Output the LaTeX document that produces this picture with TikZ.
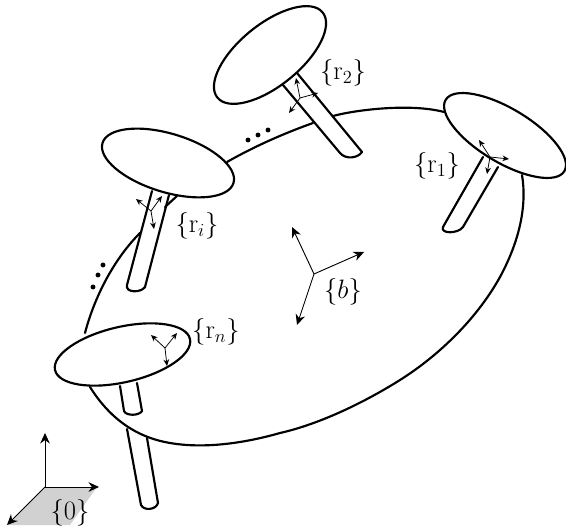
\documentclass[tikz,border=0pt]{standalone}
\usepackage{amsmath,amssymb}
\usepackage{tikz}
\usetikzlibrary{arrows.meta,positioning,shapes.geometric}
\tikzset{
  disc/.style   ={draw, ellipse, fill=white, inner sep=0pt, line width=1.4pt},
  edgeln/.style ={line width=1.4pt, line cap=round, line join=round},
  lab/.style    ={font=\LARGE, inner sep=0pt},
  axis/.style   ={-{Stealth[length=2.4mm,width=2.2mm]}, line width=0.6pt},
  axisS/.style  ={-{Stealth[length=1.5mm,width=1.3mm]}, line width=0.5pt},
  dotm/.style   ={circle, fill=black, minimum size=3.2pt, inner sep=0pt},
}
\begin{document}
\begin{tikzpicture}[x=0.65pt, y=-0.65pt]
  \useasboundingbox (0,0) rectangle (566,532);
  % ground patch
  \fill[black!18] (45,487) -- (97,487) -- (70,525) -- (8,525) -- cycle;
  % body outline
  \draw[edgeln] (227,162) .. controls (255,146) and (285,133) .. (313,123);
  \draw[edgeln] (333,116) .. controls (355,110) and (410,103) .. (444,112);
  \draw[edgeln] (522,175) .. controls (527,205) and (520,240) .. (500,277)
    .. controls (475,322) and (435,358) .. (400,380)
    .. controls (365,402) and (320,424) .. (280,433)
    .. controls (245,443) and (205,449) .. (170,443)
    .. controls (140,438) and (112,422) .. (90,387);
  \draw[edgeln] (85,333) .. controls (95,295) and (115,258) .. (140,233);
  \draw[edgeln] (165,207) -- (177,196);
  % legs
  \coordinate (l2a) at (283,85);  \coordinate (l2b) at (340,153);
  \coordinate (l2c) at (362,152); \coordinate (l2d) at (297,73);
  \draw[edgeln] (l2a) -- (l2b) .. controls (346,160) and (358,158) .. (l2c) -- (l2d);
  \coordinate (l1a) at (483,157); \coordinate (l1b) at (443,227);
  \coordinate (l1c) at (463,227); \coordinate (l1d) at (498,167);
  \draw[edgeln] (l1a) -- (l1b) .. controls (440,234) and (458,234) .. (l1c) -- (l1d);
  \coordinate (lia) at (152,191); \coordinate (lib) at (127,285);
  \coordinate (lic) at (145,287); \coordinate (lid) at (169,195);
  \draw[edgeln] (lia) -- (lib) .. controls (125,293) and (141,293) .. (lic) -- (lid);
  \coordinate (lna) at (120,386); \coordinate (lnb) at (124,411);
  \coordinate (lnc) at (142,411); \coordinate (lnd) at (137,383);
  \draw[edgeln] (lna) -- (lnb) .. controls (126,416) and (139,416) .. (lnc) -- (lnd);
  \coordinate (lma) at (127,429); \coordinate (lmb) at (141,505);
  \coordinate (lmc) at (158,503); \coordinate (lmd) at (147,438);
  \draw[edgeln] (lma) -- (lmb) .. controls (144,511) and (156,510) .. (lmc) -- (lmd);
  % platforms
  \node[disc, rotate=39, minimum width=88pt, minimum height=40pt] (r2) at (270,55) {};
  \node[disc, rotate=-31, minimum width=90pt, minimum height=35pt] (r1) at (505,135.5) {};
  \node[disc, rotate=-17, minimum width=89pt, minimum height=38pt] (ri) at (168,163) {};
  \node[disc, rotate=13, minimum width=90pt, minimum height=36pt] (rn) at (122.5,354.5) {};
  % small frames
  \coordinate (o2) at (300,98);
  \draw[axisS] (o2) -- (296,78);
  \draw[axisS] (o2) -- (318,93);
  \draw[axisS] (o2) -- (289,113);
  \coordinate (o1) at (490,157);
  \draw[axisS] (o1) -- (479,140);
  \draw[axisS] (o1) -- (509,159);
  \draw[axisS] (o1) -- (487,174);
  \coordinate (oi) at (151,211);
  \draw[axisS] (oi) -- (136,199);
  \draw[axisS] (oi) -- (162,196);
  \draw[axisS] (oi) -- (154,229);
  \coordinate (on) at (165,348);
  \draw[axisS] (on) -- (151,335);
  \draw[axisS] (on) -- (177,333);
  \draw[axisS] (on) -- (167,366);
  % body frame
  \coordinate (ob) at (314,274);
  \draw[axis] (ob) -- (292,227);
  \draw[axis] (ob) -- (364,252);
  \draw[axis] (ob) -- (297,325);
  % world frame
  \coordinate (o0) at (45,487);
  \draw[axis] (o0) -- (45,433);
  \draw[axis] (o0) -- (99,487);
  \draw[axis] (o0) -- (7,525);
  % dots
  \foreach \px/\py in {248/140, 258/135, 268/130, 93/287, 98/275, 103/265}
    \node[dotm] (d\px) at (\px,\py) {};
  % labels
  \node[lab] (t2) at (343,73) {$\{\mathrm{r}_2\}$};
  \node[lab] (t1) at (437,166) {$\{\mathrm{r}_1\}$};
  \node[lab] (ti) at (197,226) {$\{\mathrm{r}_i\}$};
  \node[lab] (tn) at (216,332) {$\{\mathrm{r}_n\}$};
  \node[lab] (tb) at (343,292) {$\{b\}$};
  \node[lab] (t0) at (70,513) {$\{0\}$};
\end{tikzpicture}
\end{document}
